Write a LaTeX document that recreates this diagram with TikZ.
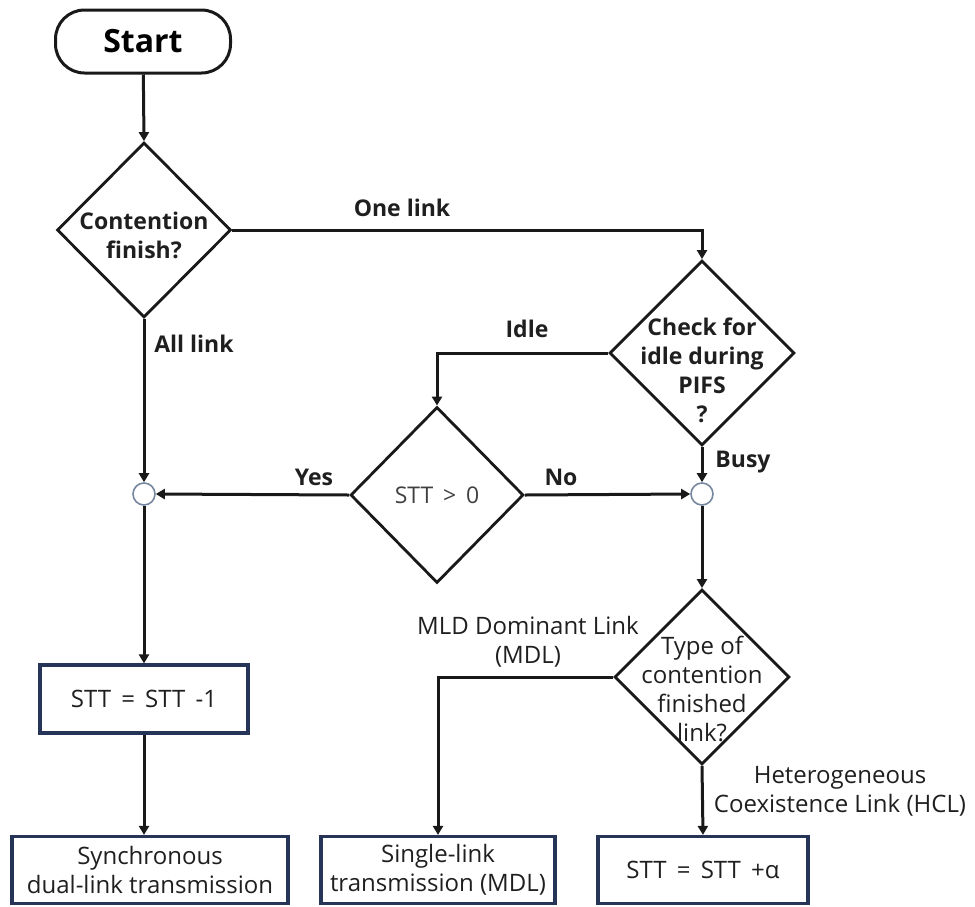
\documentclass[tikz,border=0pt]{standalone}
\usepackage{fontspec}
\setmainfont{Open Sans}
\usetikzlibrary{shapes.geometric, arrows.meta}

\begin{document}
\begin{tikzpicture}[x=1pt, y=-1pt,
  font=\fontsize{24}{29}\selectfont,
  line width=3pt,
  txt/.style={text=black!88, inner sep=0pt, align=center},
  lbl/.style={txt, font=\fontsize{23}{29}\selectfont\bfseries},
  arr/.style={draw=black!90, -{Triangle[width=10pt,length=9pt]}},
  decision/.style={draw=black!90, diamond, inner sep=0pt, line width=2.8pt},
  procbox/.style={draw={rgb,255:red,38;green,52;blue,88}, rectangle, line width=3.2pt,
                  inner sep=0pt, align=center, text=black!88},
  junction/.style={draw={rgb,255:red,120;green,135;blue,160}, circle, fill=white,
                   line width=1.6pt, minimum size=22pt, inner sep=0pt},
  terminal/.style={draw=black!90, rounded corners=29pt, line width=3pt,
                   minimum width=175pt, minimum height=63pt, inner sep=0pt,
                   font=\fontsize{32}{36}\selectfont\bfseries}
]
\useasboundingbox (0,0) rectangle (975,906);

% start
\node[terminal] (start) at (143,41.5) {Start};

% decisions
\node[decision, minimum width=174pt, minimum height=175pt,
      label={[name=d1t, lbl, yshift=-5pt]center:{Contention\\finish?}}] (d1) at (144,230) {};
\node[decision, minimum width=185pt, minimum height=185pt,
      label={[name=d2t, lbl, yshift=-17pt]center:{Check for\\idle during\\PIFS\\?}}] (d2) at (702,353) {};
\node[decision, minimum width=173pt, minimum height=176pt,
      label={[name=d3t, txt, font=\fontsize{23}{29}\selectfont, text=black!75]center:{STT \,>\, 0}}] (d3) at (437,495) {};
\node[decision, minimum width=175pt, minimum height=175pt,
      label={[name=d4t, txt, yshift=-12pt]center:{Type of\\contention\\finished\\link?}}] (d4) at (702,677) {};

% junction points
\node[junction] (j1) at (144,494) {};
\node[junction] (j2) at (702,494) {};

% process boxes
\node[procbox, minimum width=208pt, minimum height=68pt] (b1) at (144,699) {STT \,=\, STT \,-1};
\node[procbox, minimum width=276pt, minimum height=67pt] (out1) at (150,870) {Synchronous\\dual-link transmission};
\node[procbox, minimum width=234pt, minimum height=67pt] (out2) at (438,870) {Single-link\\transmission (MDL)};
\node[procbox, minimum width=210pt, minimum height=67pt] (out3) at (703,870) {STT \,=\, STT \,+α};

% connectors
\draw[arr] (start) -- (d1.north);
\draw[arr] (d1.east) -| (d2.north);
\draw[arr] (d1.south) -- (j1.north);
\draw[arr] (d2.west) -| (d3.north);
\draw[arr] (d2.south) -- (j2.north);
\draw[arr] (d3.east) -- (j2.west);
\draw[arr] (d3.west) -- (j1.east);
\draw[arr] (j1.south) -- (b1.north);
\draw[arr] (b1.south) -- (b1.south |- out1.north);
\draw[arr] (j2.south) -- (d4.north);
\draw[arr] (d4.west) -| (out2.north);
\draw[arr] (d4.south) -- (out3.north);

% branch labels
\node[lbl] (lone) at (402,208) {One link};
\node[lbl] (lall) at (194,344) {All link};
\node[lbl] (lidle) at (527,329) {Idle};
\node[lbl] (lbusy) at (743,462) {Busy};
\node[lbl] (lyes) at (314,477) {Yes};
\node[lbl] (lno) at (561,477) {No};
\node[txt] (lmdl) at (528,642) {MLD Dominant Link\\(MDL)};
\node[txt] (lhcl) at (840,791) {Heterogeneous\\Coexistence Link (HCL)};
\end{tikzpicture}
\end{document}
